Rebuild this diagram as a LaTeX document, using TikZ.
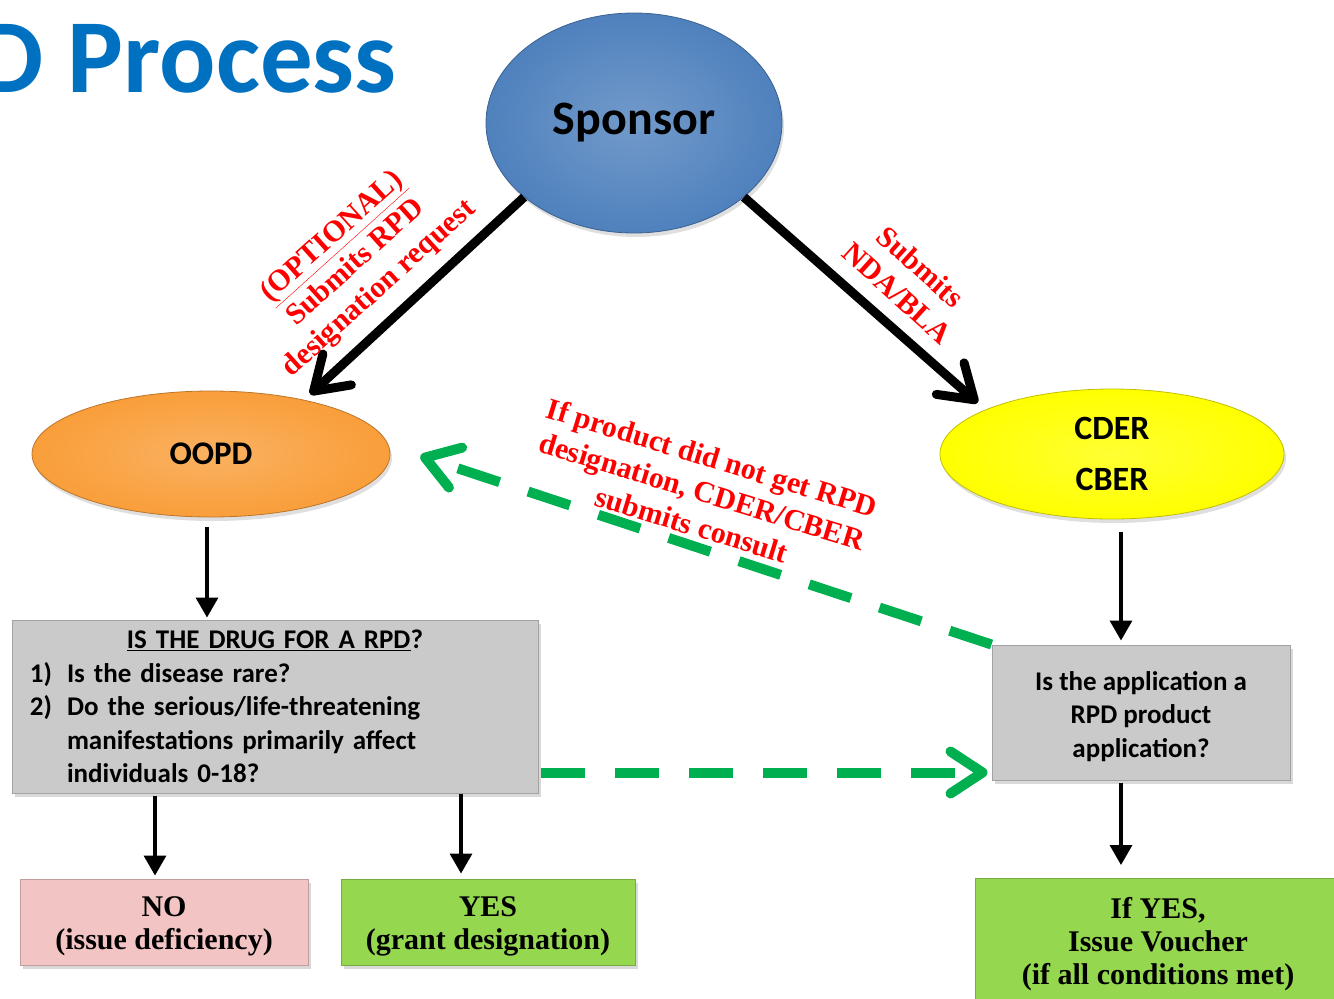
\documentclass[tikz,border=0pt]{standalone}
\usepackage{fontspec}
\setmainfont{Liberation Serif}
\setsansfont{Carlito}
\usetikzlibrary{arrows.meta,shapes.geometric,shadows,calc}

\definecolor{rpdBlue}{RGB}{0,112,192}
\definecolor{rpdSponsor}{RGB}{79,129,189}
\definecolor{rpdOrange}{RGB}{249,158,58}
\definecolor{rpdYellow}{RGB}{255,255,0}
\definecolor{rpdGray}{RGB}{202,202,202}
\definecolor{rpdPink}{RGB}{242,196,196}
\definecolor{rpdLime}{RGB}{150,215,80}
\definecolor{rpdDash}{RGB}{0,176,80}
\definecolor{rpdRed}{RGB}{255,0,0}

\tikzset{
  blob/.style={ellipse, inner sep=0pt, align=center, draw=#1!75!black, line width=0.8pt,
    shading=radial, inner color=#1!80!white, outer color=#1,
    drop shadow={shadow xshift=2pt, shadow yshift=-4pt, opacity=0.25}},
  panel/.style={rectangle, inner sep=0pt, draw=#1!80!black, line width=1pt, fill=#1,
    drop shadow={shadow xshift=3pt, shadow yshift=-4pt, opacity=0.3}},
  thickarrow/.style={line width=9pt, -{Straight Barb[round, length=32pt, width=42pt]}},
  thinarrow/.style={line width=3.5pt, -{Triangle[length=20pt, width=22pt]}},
  consult/.style={rpdDash, line width=10pt, dash pattern=on 44pt off 30pt,
    -{Straight Barb[round, length=32pt, width=42pt]}}
}

\newcommand{\boxsans}{\sffamily\bfseries\fontsize{27}{33.5}\selectfont}
\newcommand{\boxserif}{\rmfamily\bfseries\fontsize{30}{33}\selectfont}

\begin{document}
\begin{tikzpicture}[x=1pt, y=-1pt, font=\sffamily\bfseries]
\useasboundingbox (0,0) rectangle (1334,999);

\node[rpdBlue, anchor=base east, inner sep=0pt, font=\sffamily\bfseries\fontsize{105}{110}\selectfont] (title) at (397,92) {D Process};

\node[blob=rpdSponsor, minimum width=296pt, minimum height=220pt, font=\sffamily\bfseries\fontsize{48}{52}\selectfont] (sponsor) at (634,123) {Sponsor};
\node[blob=rpdOrange, minimum width=358pt, minimum height=126pt, font=\sffamily\bfseries\fontsize{33}{36}\selectfont] (oopd) at (211,454) {OOPD};
\node[blob=rpdYellow, minimum width=344pt, minimum height=130pt, font=\sffamily\bfseries\fontsize{34}{51}\selectfont] (cder) at (1112,454) {CDER\\CBER};

\node[panel=rpdGray, minimum width=526pt, minimum height=173pt, text width=490pt, inner xsep=18pt, font=\boxsans] (qbox) at (275,706.5)
  {\parindent=0pt{\centering\underline{IS THE DRUG FOR A RPD}?\par}
   \makebox[37pt][l]{1)}Is the disease rare?\par
   \makebox[37pt][l]{2)}Do the serious/life-threatening\par
   \hspace*{37pt}manifestations primarily affect\par
   \hspace*{37pt}individuals 0-18?\par};
\node[panel=rpdGray, minimum width=298pt, minimum height=135pt, align=center, font=\boxsans] (abox) at (1141,712.5)
  {\rule{0pt}{27pt}Is the application a\\RPD product\\application?};

\node[panel=rpdPink, minimum width=288pt, minimum height=86pt, align=center, font=\boxserif] (nobox) at (164,922) {\rule{0pt}{29pt}NO\\(issue deficiency)};
\node[panel=rpdLime, minimum width=294pt, minimum height=86pt, align=center, font=\boxserif] (yesbox) at (488,922) {\rule{0pt}{29pt}YES\\(grant designation)};
\node[panel=rpdLime, minimum width=366pt, minimum height=124pt, align=center, font=\boxserif] (vbox) at (1158,940.5) {\rule{0pt}{29pt}If YES,\\Issue Voucher\\(if all conditions met)};

\draw[thickarrow] (sponsor.214) -- ([yshift=7pt]oopd.28);
\draw[thickarrow] (sponsor.326) -- ([shift={(-10pt,6pt)}]cder.160);

\begin{scope}[thinarrow]
\draw ([xshift=-4pt, yshift=-10pt]oopd.south) -- ([xshift=-4pt, yshift=2pt]oopd.south |- qbox.north);
\draw ([xshift=9pt, yshift=-13pt]cder.south) -- ([xshift=9pt, yshift=4pt]cder.south |- abox.north);
\draw ([xshift=-9pt, yshift=-2pt]nobox.north |- qbox.south) -- ([xshift=-9pt, yshift=3pt]nobox.north);
\draw ([xshift=-27pt]yesbox.north |- qbox.south) -- ([xshift=-27pt, yshift=5pt]yesbox.north);
\draw ([xshift=-37pt, yshift=-2pt]vbox.north |- abox.south) -- ([xshift=-37pt, yshift=13pt]vbox.north);
\end{scope}

\draw[consult] ($(qbox.south east)+(2,-21)$) -- ($(abox.south west)+(-4,-8)$);
\draw[consult] (abox.north west) -- ($(oopd.east)+(30,2)$);

\begin{scope}[rpdRed, font=\rmfamily\bfseries\fontsize{30}{35}\selectfont, align=center]
\node[rotate=42] (optlbl) at (356,263) {\underline{(OPTIONAL)}\\Submits RPD\\designation request};
\node[rotate=-42] (ndalbl) at (909,280) {Submits\\NDA/BLA};
\node[rotate=-17] (consultlbl) at (702,491) {If product did not get RPD\\designation, CDER/CBER\\submits consult};
\end{scope}
\end{tikzpicture}
\end{document}
